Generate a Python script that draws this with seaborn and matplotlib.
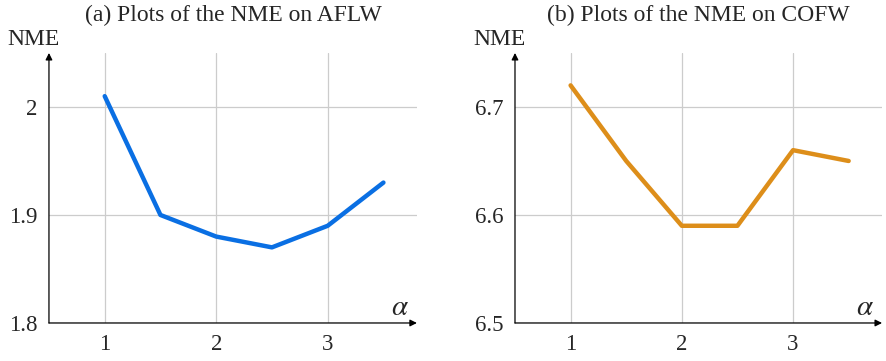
import matplotlib
matplotlib.use("Agg")
import matplotlib.pyplot as plt
import seaborn as sns
import pandas as pd

# ─────────────────────────────────────────────
# Data
# ─────────────────────────────────────────────

alpha = [1.0, 1.5, 2.0, 2.5, 3.0, 3.5]
nme_aflw = [2.01, 1.90, 1.88, 1.87, 1.89, 1.93]
nme_cofw = [6.72, 6.65, 6.59, 6.59, 6.66, 6.65]

x_ticks = [1, 2, 3]
aflw_ticks = [1.8, 1.9, 2.0]
aflw_labels = ["1.8", "1.9", "2"]
cofw_ticks = [6.5, 6.6, 6.7]
cofw_labels = ["6.5", "6.6", "6.7"]

titles = ["(a) Plots of the NME on AFLW", "(b) Plots of the NME on COFW"]
colors = ["#0A6FE3", "#DD8E1A"]

sns.set_style("white")
plt.rcParams["font.family"] = ["Liberation Serif", "DejaVu Serif"]
plt.rcParams["mathtext.fontset"] = "stix"

fig = plt.figure(figsize=(8.87, 3.61), dpi=100)
ax_a = fig.add_axes([0.0552, 0.1053, 0.4148, 0.748])
ax_b = fig.add_axes([0.5806, 0.1053, 0.4138, 0.748])

panels = [
    (ax_a, nme_aflw, aflw_ticks, aflw_labels, (1.8, 2.05)),
    (ax_b, nme_cofw, cofw_ticks, cofw_labels, (6.5, 6.75)),
]

for i, (ax, vals, yt, yl, ylim) in enumerate(panels):
    df = pd.DataFrame({"alpha": alpha, "nme": vals})
    sns.lineplot(data=df, x="alpha", y="nme", ax=ax, color=colors[i],
                 linewidth=3.2, zorder=3)
    ax.set_xlim(0.5, 3.8)
    ax.set_ylim(*ylim)
    ax.set_xticks(x_ticks)
    ax.set_xticklabels([str(t) for t in x_ticks])
    ax.set_yticks(yt)
    ax.set_yticklabels(yl)
    ax.grid(True, color="#cccccc", linewidth=0.9)
    ax.tick_params(axis="both", direction="inout", length=6, width=0.8,
                   color="#888888", labelsize=16.5, pad=5)
    ax.set_xlabel("")
    ax.set_ylabel("")
    for side in ["top", "right", "left", "bottom"]:
        ax.spines[side].set_visible(False)

    # pgfplots-style axis lines with arrows
    ax.annotate("", xy=(1.0, 0), xytext=(0, 0), xycoords="axes fraction",
                arrowprops=dict(arrowstyle="-|>", color="black", lw=0.9,
                                mutation_scale=10, shrinkA=0, shrinkB=0),
                zorder=4)
    ax.annotate("", xy=(0, 1.0), xytext=(0, 0), xycoords="axes fraction",
                arrowprops=dict(arrowstyle="-|>", color="black", lw=0.9,
                                mutation_scale=10, shrinkA=0, shrinkB=0),
                zorder=4)

    ax.text(-0.043, 1.048, "NME", transform=ax.transAxes, fontsize=17,
            ha="center", va="center")
    ax.text(0.954, 0.056, r"$\alpha$", transform=ax.transAxes, fontsize=21,
            ha="center", va="center")
    ax.text(0.5, 1.14, titles[i], transform=ax.transAxes, fontsize=17,
            ha="center", va="center")

fig.savefig("out.png", dpi=100)
